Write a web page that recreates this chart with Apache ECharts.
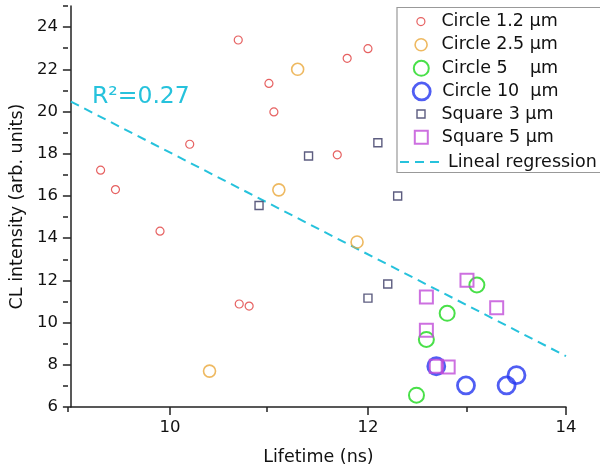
<!DOCTYPE html>
<html>
<head>
<meta charset="utf-8">
<script src="https://cdn.jsdelivr.net/npm/echarts@6/dist/echarts.min.js"></script>
<style>
  html, body { margin: 0; padding: 0; background: #fff; }
  #chart { width: 600px; height: 472px; }
</style>
</head>
<body>
<div id="chart"></div>
<script>
// data
const c12X = [10.69, 11.0, 11.05, 10.2, 9.3, 9.45, 9.9, 10.7, 10.8, 11.79, 12.0, 11.69]
const c12Y = [23.39, 21.33, 19.98, 18.45, 17.22, 16.3, 14.33, 10.88, 10.78, 22.52, 22.98, 17.95]
const c25X = [11.29, 11.1, 10.4, 11.89]
const c25Y = [22.0, 16.29, 7.7, 13.82]
const c5X = [13.1, 12.8, 12.59, 12.49]
const c5Y = [11.78, 10.44, 9.2, 6.56]
const c10X = [12.69, 12.99, 13.4, 13.5]
const c10Y = [7.93, 7.02, 7.02, 7.51]
const s3X = [10.9, 11.4, 12.1, 12.3, 12.2, 12.0]
const s3Y = [15.55, 17.89, 18.52, 16.0, 11.83, 11.16]
const s5X = [13.0, 12.59, 13.3, 12.59, 12.69, 12.81]
const s5Y = [12.0, 11.21, 10.7, 9.64, 7.93, 7.9]
const regX = [9, 14]
const regY = [20.47, 8.41]

const xMajor = [10, 12, 14]
const xMinor = [9, 11, 13]
const yMajor = [6, 8, 10, 12, 14, 16, 18, 20, 22, 24]
const yMinor = [7, 9, 11, 13, 15, 17, 19, 21, 23, 25]

const font = 'DejaVu Sans'
const axisColor = '#222'

const groups = [
  { name: 'Circle 1.2 µm', xs: c12X, ys: c12Y, symbol: 'circle', size: 8, width: 1.2, color: '#e03a3a' },
  { name: 'Circle 2.5 µm', xs: c25X, ys: c25Y, symbol: 'circle', size: 12, width: 1.6, color: '#eaa83a' },
  { name: 'Circle 5    µm', xs: c5X, ys: c5Y, symbol: 'circle', size: 15, width: 2, color: '#1cd81c' },
  { name: 'Circle 10  µm', xs: c10X, ys: c10Y, symbol: 'circle', size: 17, width: 2.8, color: '#2436f0' },
  { name: 'Square 3 µm', xs: s3X, ys: s3Y, symbol: 'rect', size: 8, width: 1.4, color: '#343460' },
  { name: 'Square 5 µm', xs: s5X, ys: s5Y, symbol: 'rect', size: 13, width: 2, color: '#c04cd8' }
]
const regName = 'Lineal regression'
const regColor = '#26c2dc'

const zip = (xs, ys) => xs.map((x, i) => [x, ys[i]])

// legend icon: a shape of the series' size inside a fixed box, so every row lines up
const iconBox = 31
const legendIcon = (symbol, s) => {
  const c = iconBox / 2
  const r = s / 2
  const frame = `M0 0M${iconBox} ${iconBox}`
  if (symbol === 'rect') {
    return `path://${frame}M${c - r} ${c - r}L${c + r} ${c - r}L${c + r} ${c + r}L${c - r} ${c + r}Z`
  }
  return `path://${frame}M${c + r} ${c}A${r} ${r} 0 1 1 ${c - r} ${c}A${r} ${r} 0 1 1 ${c + r} ${c}Z`
}

const series = groups.map((g) => ({
  name: g.name,
  type: 'scatter',
  symbol: g.symbol,
  symbolSize: g.size,
  data: zip(g.xs, g.ys),
  itemStyle: { color: 'rgba(0,0,0,0)', borderColor: g.color, borderWidth: g.width },
  emphasis: { disabled: true },
  z: 3
}))
series.push({
  name: regName,
  type: 'line',
  symbol: 'none',
  data: zip(regX, regY),
  lineStyle: { color: regColor, width: 2, type: [9, 6] },
  itemStyle: { color: regColor },
  emphasis: { disabled: true },
  z: 2
})

// one legend per row
const rowY = [21, 44, 67.3, 90, 113.3, 136.3, 160]
const legendText = { fontFamily: font, fontSize: 17.5, color: '#111' }
const legends = groups.map((g, i) => ({
  data: [{
    name: g.name,
    icon: legendIcon(g.symbol, g.size),
    itemStyle: { color: 'rgba(0,0,0,0)', borderColor: g.color, borderWidth: g.width }
  }],
  left: 404.8,
  top: rowY[i] - iconBox / 2,
  padding: 0,
  itemWidth: iconBox,
  itemHeight: iconBox,
  symbolKeepAspect: true,
  selectedMode: false,
  textStyle: legendText
}))
legends.push({
  data: [{
    name: regName,
    itemStyle: { opacity: 0 },
    lineStyle: { color: regColor, width: 2, type: [9, 6] }
  }],
  left: 399,
  top: rowY[6] - 7,
  padding: 0,
  itemWidth: 43,
  itemHeight: 14,
  selectedMode: false,
  textStyle: legendText
})

const chart = echarts.init(document.getElementById('chart'), null, { renderer: 'canvas' })
chart.setOption({
  animation: false,
  backgroundColor: '#fff',
  grid: [
    { left: 68, right: 34, top: 6, bottom: 65 },
    { left: 68, right: 34, top: 6, bottom: 65 }
  ],
  xAxis: [
    {
      type: 'value',
      min: 9,
      max: 14,
      name: 'Lifetime (ns)',
      nameLocation: 'middle',
      nameGap: 41,
      nameTextStyle: { fontFamily: font, fontSize: 17.5, color: '#111' },
      axisLine: { show: true, lineStyle: { color: axisColor, width: 1.5 } },
      axisTick: { show: true, customValues: xMajor, length: 8, lineStyle: { color: axisColor, width: 1.5 } },
      axisLabel: { customValues: xMajor, margin: 12, fontFamily: font, fontSize: 16.5, color: '#111' },
      splitLine: { show: false }
    },
    {
      type: 'value',
      gridIndex: 1,
      min: 9,
      max: 14,
      axisLine: { show: false },
      axisTick: { show: true, customValues: xMinor, length: 5, lineStyle: { color: axisColor, width: 1.5 } },
      axisLabel: { show: false },
      splitLine: { show: false }
    }
  ],
  yAxis: [
    {
      type: 'value',
      min: 6,
      max: 25,
      name: 'CL intensity (arb. units)',
      nameLocation: 'middle',
      nameGap: 40,
      nameTextStyle: { fontFamily: font, fontSize: 17.5, color: '#111' },
      axisLine: { show: true, lineStyle: { color: axisColor, width: 1.5 } },
      axisTick: { show: true, customValues: yMajor, length: 8, lineStyle: { color: axisColor, width: 1.5 } },
      axisLabel: { customValues: yMajor, margin: 13, fontFamily: font, fontSize: 16.5, color: '#111' },
      splitLine: { show: false }
    },
    {
      type: 'value',
      gridIndex: 1,
      min: 6,
      max: 25,
      axisLine: { show: false },
      axisTick: { show: true, customValues: yMinor, length: 5, lineStyle: { color: axisColor, width: 1.5 } },
      axisLabel: { show: false },
      splitLine: { show: false }
    }
  ],
  legend: legends,
  series,
  graphic: [
    {
      type: 'rect',
      shape: { x: 397, y: 7.5, width: 220, height: 165 },
      style: { fill: 'none', stroke: '#999', lineWidth: 1.2 },
      z: 1
    },
    {
      type: 'text',
      x: 92,
      y: 97,
      style: {
        text: 'R²=0.27',
        fontFamily: font,
        fontSize: 23.5,
        fill: regColor,
        verticalAlign: 'middle'
      },
      z: 5
    }
  ]
})
</script>
</body>
</html>
